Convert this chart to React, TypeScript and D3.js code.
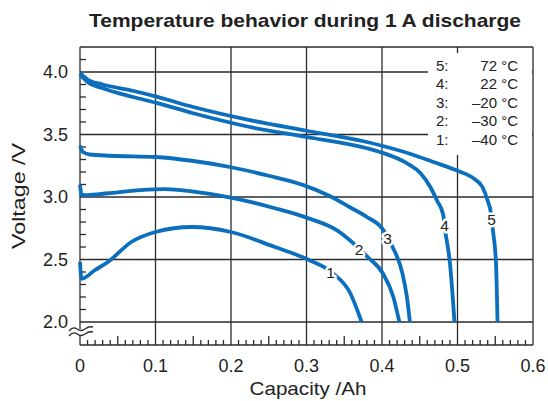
import * as d3 from 'd3';

// discharge curves, [capacity Ah, voltage V]
const curve5: [number, number][] = [
  [0, 3.99], [0.01, 3.94], [0.03, 3.9], [0.07, 3.85], [0.1, 3.805], [0.15, 3.72],
  [0.225, 3.615], [0.3, 3.53], [0.38, 3.44], [0.4, 3.41], [0.44, 3.34], [0.468, 3.28],
  [0.5, 3.21], [0.521, 3.15], [0.533, 3.08], [0.54, 2.97], [0.544, 2.88], [0.547, 2.73],
  [0.551, 2.47], [0.553, 2.0],
];
const curve4: [number, number][] = [
  [0, 3.98], [0.01, 3.92], [0.03, 3.87], [0.07, 3.8], [0.1, 3.755], [0.15, 3.67],
  [0.225, 3.56], [0.3, 3.48], [0.38, 3.39], [0.4, 3.355], [0.433, 3.27], [0.451, 3.19],
  [0.464, 3.08], [0.473, 2.97], [0.481, 2.86], [0.484, 2.72], [0.49, 2.47], [0.496, 2.0],
];
const curve3: [number, number][] = [
  [0, 3.41], [0.004, 3.36], [0.013, 3.34], [0.04, 3.33], [0.1, 3.32], [0.148, 3.29],
  [0.2, 3.238], [0.25, 3.17], [0.296, 3.095], [0.33, 3.01], [0.357, 2.92], [0.38, 2.84],
  [0.4, 2.75], [0.414, 2.6], [0.427, 2.39], [0.433, 2.2], [0.437, 2.0],
];
const curve2: [number, number][] = [
  [0, 3.1], [0.002, 3.02], [0.01, 3.015], [0.037, 3.03], [0.08, 3.055], [0.113, 3.063],
  [0.148, 3.045], [0.2, 2.995], [0.258, 2.91], [0.3, 2.835], [0.34, 2.735], [0.381, 2.52],
  [0.401, 2.39], [0.415, 2.2], [0.423, 2.0],
];
const curve1: [number, number][] = [
  [0, 2.48], [0.002, 2.345], [0.02, 2.416], [0.037, 2.48], [0.068, 2.64], [0.1, 2.72],
  [0.148, 2.76], [0.2, 2.72], [0.258, 2.6], [0.302, 2.5], [0.335, 2.39], [0.358, 2.23],
  [0.373, 2.0],
];

const seriesIds = ['5', '4', '3', '2', '1'];
const seriesTemps = ['72 °C', '22 °C', '–20 °C', '–30 °C', '–40 °C'];
const seriesData = [curve5, curve4, curve3, curve2, curve1];
// voltage where the curve number sits on each line
const labelVolts = [2.82, 2.77, 2.67, 2.58, 2.4];

const xTicks = [0, 0.1, 0.2, 0.3, 0.4, 0.5, 0.6];
const xTickLabels = ['0', '0.1', '0.2', '0.3', '0.4', '0.5', '0.6'];
const yTicks = [2.0, 2.5, 3.0, 3.5, 4.0];
const yTickLabels = ['2.0', '2.5', '3.0', '3.5', '4.0'];

const W = 548;
const H = 401;
const FONT = '"Liberation Sans", Arial, Helvetica, sans-serif';
const BLUE = '#0b6fbd';
const GRID = '#2b2b2b';

const x = d3.scaleLinear().domain([0, 0.6]).range([80, 533]);
const y = d3.scaleLinear().domain([2.0, 4.2]).range([322, 47]);
const bottom = 345;

const line = d3.line<[number, number]>()
  .x(d => x(d[0]))
  .y(d => y(d[1]))
  .curve(d3.curveMonotoneX);

// capacity at a given voltage on the falling part of a curve
function capAt(data: [number, number][], v: number) {
  for (let i = data.length - 1; i > 0; i--) {
    const [x0, y0] = data[i - 1];
    const [x1, y1] = data[i];
    if ((y0 - v) * (y1 - v) <= 0 && y0 !== y1) {
      return x0 + (x1 - x0) * (v - y0) / (y1 - y0);
    }
  }
  return data[data.length - 1][0];
}

export default function App() {
  const minorY = d3.range(21, 42).map(d => d / 10).filter(d => Math.round(d * 10) % 5 !== 0);
  const minorX = d3.range(1, 60).filter(d => d % 10 !== 0).map(d => d / 100);

  return (
    <svg width={W} height={H} style={{ position: 'absolute', left: 0, top: 0, background: '#fff' }}>
      <text x={305} y={27} textAnchor="middle" fontFamily={FONT} fontWeight="bold" fontSize={18.5}
        fill="#222" textLength={432} lengthAdjust="spacingAndGlyphs">
        Temperature behavior during 1 A discharge
      </text>

      {/* grid */}
      <g stroke={GRID} strokeWidth={1.3} fill="none">
        {yTicks.map(t => (
          <line key={'gy' + t} x1={x(0)} x2={x(0.6)} y1={y(t)} y2={y(t)} />
        ))}
        <line x1={x(0)} x2={x(0.6)} y1={y(4.2)} y2={y(4.2)} />
        {xTicks.slice(1).map(t => (
          <line key={'gx' + t} x1={x(t)} x2={x(t)} y1={y(4.2)} y2={bottom} />
        ))}
        <line x1={x(0)} x2={x(0.6)} y1={bottom} y2={bottom} />
        <line x1={x(0)} x2={x(0)} y1={y(4.2)} y2={bottom} />
        {minorY.map(t => (
          <line key={'my' + t} x1={x(0)} x2={x(0) + 6} y1={y(t)} y2={y(t)} />
        ))}
        {minorX.map(t => (
          <line key={'mx' + t} x1={x(t)} x2={x(t)}
            y1={bottom} y2={bottom - (Math.round(t * 100) % 5 === 0 ? 9 : 5)} />
        ))}
      </g>

      {/* axis break */}
      <g fill="none">
        <rect x={x(0) - 3} y={329} width={6} height={7} fill="#fff" />
        <path d={`M${x(0) - 11},331 q4,-5 8,-2 t8,0 t8,-2`} stroke={GRID} strokeWidth={1.3} />
        <path d={`M${x(0) - 11},336 q4,-5 8,-2 t8,0 t8,-2`} stroke={GRID} strokeWidth={1.3} />
      </g>

      {/* legend */}
      <rect x={428} y={53} width={104} height={102} fill="#fff" />
      {seriesIds.map((id, i) => (
        <g key={'lg' + id} fontFamily={FONT} fontSize={15} fill="#222">
          <text x={436} y={71 + i * 18.4}>{id}:</text>
          <text x={518} y={71 + i * 18.4} textAnchor="end">{seriesTemps[i]}</text>
        </g>
      ))}

      {/* curves */}
      {seriesData.map((d, i) => (
        <path key={'c' + i} d={line(d) || ''} fill="none" stroke={BLUE} strokeWidth={3.8}
          strokeLinecap="butt" strokeLinejoin="round" />
      ))}
      {seriesData.map((d, i) => (
        <text key={'cl' + i} x={x(capAt(d, labelVolts[i]))} y={y(labelVolts[i])} dy="0.36em"
          textAnchor="middle" fontFamily={FONT} fontSize={15.5} fill="#222"
          stroke="#fff" strokeWidth={5} paintOrder="stroke" strokeLinejoin="round">
          {seriesIds[i]}
        </text>
      ))}

      {/* tick labels */}
      {xTicks.map((t, i) => (
        <text key={'xt' + t} x={x(t)} y={372} textAnchor="middle" fontFamily={FONT} fontSize={18} fill="#222">
          {xTickLabels[i]}
        </text>
      ))}
      {yTicks.map((t, i) => (
        <text key={'yt' + t} x={68} y={y(t)} dy="0.36em" textAnchor="end" fontFamily={FONT} fontSize={18} fill="#222">
          {yTickLabels[i]}
        </text>
      ))}

      <text x={308} y={395} textAnchor="middle" fontFamily={FONT} fontSize={19} fill="#222"
        textLength={117} lengthAdjust="spacingAndGlyphs">Capacity /Ah</text>
      <text transform={`translate(25,196) rotate(-90)`} textAnchor="middle" fontFamily={FONT} fontSize={19} fill="#222"
        textLength={106} lengthAdjust="spacingAndGlyphs">
        Voltage /V
      </text>
    </svg>
  );
}
